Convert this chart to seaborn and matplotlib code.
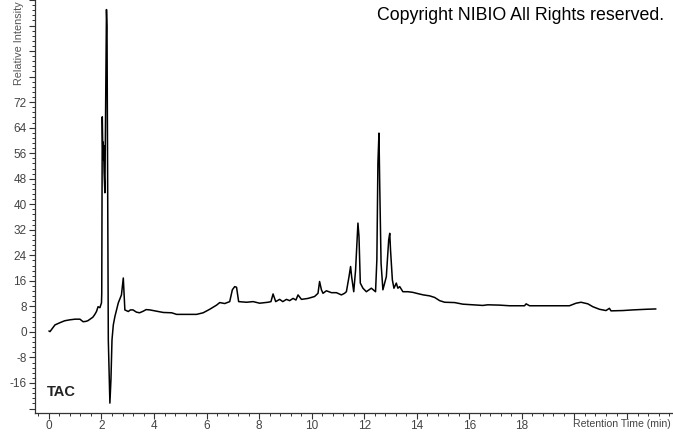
import numpy as np
import pandas as pd
import matplotlib
matplotlib.use("Agg")
import matplotlib.pyplot as plt
import seaborn as sns
from matplotlib.ticker import MultipleLocator, FuncFormatter

# === Data ===
time_min = [
    0.00, 0.04, 0.23, 0.42, 0.60, 0.80, 1.00, 1.18, 1.30, 1.40, 1.48, 1.58, 1.67,
    1.74, 1.81, 1.87, 1.94, 2.00, 2.01, 2.03, 2.05, 2.06, 2.07, 2.08, 2.10, 2.13,
    2.19, 2.21, 2.24, 2.26, 2.32, 2.36, 2.40, 2.45, 2.51, 2.64, 2.76, 2.83, 2.89,
    3.02, 3.10, 3.20, 3.33, 3.45, 3.59, 3.70, 3.84, 4.10, 4.35, 4.67, 4.86, 5.20,
    5.62, 5.87, 6.12, 6.38, 6.50, 6.69, 6.88, 6.98, 7.07, 7.14, 7.22, 7.52, 7.77,
    8.02, 8.34, 8.45, 8.53, 8.63, 8.78, 8.90, 9.04, 9.16, 9.29, 9.40, 9.48, 9.61,
    9.86, 10.11, 10.24, 10.30, 10.37, 10.43, 10.56, 10.75, 10.94, 11.13, 11.25,
    11.32, 11.42, 11.48, 11.52, 11.60, 11.67, 11.76, 11.80, 11.85, 11.95, 12.08,
    12.27, 12.43, 12.48, 12.52, 12.56, 12.59, 12.64, 12.71, 12.84, 12.93, 12.97,
    13.00, 13.07, 13.13, 13.22, 13.28, 13.35, 13.47, 13.66, 13.85, 14.04, 14.25,
    14.49, 14.68, 14.87, 15.06, 15.44, 15.75, 16.13, 16.51, 16.70, 17.15, 17.53,
    18.10, 18.16, 18.29, 18.90, 19.81, 20.06, 20.25, 20.51, 20.70, 20.95, 21.20,
    21.33, 21.39, 21.84, 22.22, 22.73, 23.10,
]
intensity = [
    0.3, 0.1, 2.2, 2.9, 3.5, 3.8, 4.0, 4.0, 3.2, 3.3, 3.5, 4.1, 4.6,
    5.4, 6.4, 7.9, 7.6, 9.1, 12.0, 67.4, 57.0, 59.5, 54.0, 58.5, 50.0, 43.6,
    101.0, 95.6, 38.0, -2.5, -22.3, -15.0, -2.5, 2.2, 4.8, 9.1, 11.6, 16.9, 6.9,
    6.4, 6.9, 6.9, 6.2, 6.0, 6.5, 7.0, 6.9, 6.5, 6.1, 6.0, 5.5, 5.5,
    5.5, 6.0, 7.1, 8.4, 9.2, 8.9, 9.5, 13.2, 14.2, 14.0, 9.5, 9.3, 9.5,
    9.0, 9.3, 9.5, 11.9, 9.5, 10.2, 9.5, 10.2, 9.8, 10.5, 10.0, 11.6, 10.2,
    10.5, 11.1, 12.1, 15.8, 13.2, 12.1, 12.9, 12.3, 12.3, 11.6, 12.1,
    12.6, 17.3, 20.5, 17.3, 12.6, 19.4, 34.1, 29.9, 15.3, 13.7, 12.6,
    13.7, 12.6, 22.6, 52.9, 62.3, 45.5, 21.5, 13.2, 17.3, 28.8, 30.9,
    25.7, 16.3, 13.7, 15.3, 13.7, 14.2, 12.6, 12.6, 12.4, 12.0, 11.6,
    11.3, 10.8, 9.8, 9.3, 9.2, 8.7, 8.5, 8.3, 8.5, 8.4, 8.2,
    8.2, 8.8, 8.2, 8.2, 8.2, 9.0, 9.3, 8.8, 7.9, 7.1, 6.7,
    7.4, 6.6, 6.7, 6.9, 7.1, 7.2,
]
x_tick_labels = ["0", "2", "4", "6", "8", "10", "12", "14", "16", "18"]
y_tick_labels = ["-16", "-8", "0", "8", "16", "24", "32", "40", "48", "56", "64", "72"]

df = pd.DataFrame({"time": time_min, "intensity": intensity})

# === Style ===
sns.set_style("ticks")
plt.rcParams["font.family"] = ["Liberation Sans", "DejaVu Sans"]

fig = plt.figure(figsize=(6.73, 4.33), dpi=100)
ax = fig.add_axes([35 / 673, 20 / 433, 1 - 35 / 673, 1 - 20 / 433])

sns.lineplot(data=df, x="time", y="intensity", ax=ax, color="black",
             linewidth=1.1, estimator=None, sort=False)

ax.set_xlim(-0.53, 23.75)
ax.set_ylim(-25.4, 104)
ax.set_xlabel("")
ax.set_ylabel("")

for side in ["top", "right"]:
    ax.spines[side].set_visible(False)
for side in ["left", "bottom"]:
    ax.spines[side].set_color("#333333")
    ax.spines[side].set_linewidth(0.9)

# x ticks
ax.xaxis.set_major_locator(MultipleLocator(2))
ax.xaxis.set_minor_locator(MultipleLocator(0.4))
ax.xaxis.set_major_formatter(FuncFormatter(
    lambda v, p: str(int(round(v))) if str(int(round(v))) in x_tick_labels else ""))

# y ticks
ax.yaxis.set_major_locator(MultipleLocator(8))
ax.yaxis.set_minor_locator(MultipleLocator(1.6))
ax.yaxis.set_major_formatter(FuncFormatter(
    lambda v, p: str(int(round(v))) if str(int(round(v))) in y_tick_labels else ""))

ax.tick_params(which="major", direction="out", length=4, width=0.8,
               colors="#333333", labelcolor="#444444", labelsize=8.5)
ax.tick_params(axis="x", which="major", pad=1)
ax.tick_params(axis="y", which="major", pad=2)
ax.tick_params(which="minor", direction="out", length=2.5, width=0.7, colors="#333333")

# axis titles drawn like the instrument software does
fig.text(622 / 673, 1 - 424 / 433, "Retention Time (min)", ha="center", va="center",
         fontsize=7.6, color="#444444")
fig.text(19 / 673, 1 - 1 / 433, "Relative Intensity", rotation=90, ha="center",
         va="top", fontsize=7.8, color="#555555")

fig.text(521 / 673, 1 - 15 / 433, "Copyright NIBIO All Rights reserved.",
         ha="center", va="center", fontsize=12.8, color="black")
ax.text(47 / 673, 1 - 392 / 433, "TAC", transform=fig.transFigure, ha="left",
        va="center", fontsize=10.5, fontweight="bold", color="#222222")

fig.savefig("out.png", dpi=100)
